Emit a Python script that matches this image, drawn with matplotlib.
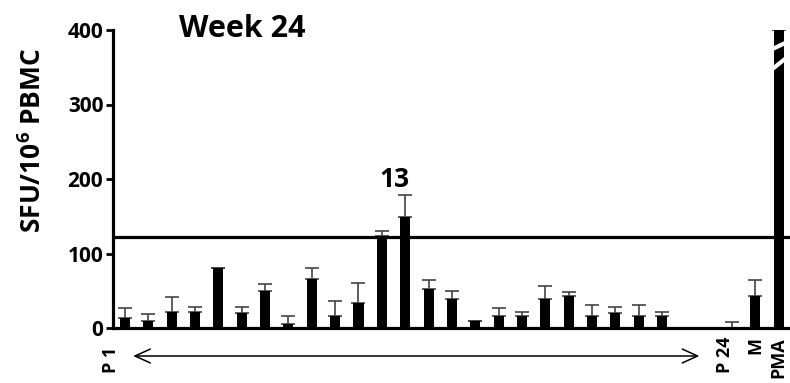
import numpy as np
import matplotlib
matplotlib.use('Agg')
from matplotlib import pyplot as plt

plt.rcParams['font.family'] = ['Open Sans', 'DejaVu Sans']
plt.rcParams['font.weight'] = 'bold'
plt.rcParams['mathtext.fontset'] = 'custom'
plt.rcParams['mathtext.bf'] = 'Open Sans:bold'

# peptide pools P1..P24, then empty slots, P24 control, medium, PMA
pos = np.arange(29)
sfu = [13, 9, 22, 22, 80, 20, 49, 5, 66, 16, 33, 124, 149,
       53, 39, 9, 16, 16, 39, 43, 16, 20, 16, 16,
       0, 0, 0, 43, 400]
err = [14, 10, 20, 6, 0, 8, 10, 11, 15, 20, 28, 6, 30,
       11, 10, 0, 11, 5, 17, 5, 15, 8, 15, 5,
       0, 0, 8, 21, 0]
cutoff = 122
tick_pos = [0, 26, 27, 28]
tick_lab = ['P 1', 'P 24', 'M', 'PMA']

fig = plt.figure(figsize=(7.9, 3.83), dpi=100)
ax = fig.add_axes([113 / 790, 1 - 328 / 383, 1 - 113 / 790, (328 - 30) / 383])

ax.bar(pos, sfu, width=0.43, color='black', zorder=2)
ax.errorbar(pos, sfu, yerr=[np.zeros(len(err)), err], fmt='none',
            ecolor='#444444', elinewidth=1.2, capsize=5, capthick=1.2, zorder=1)
ax.axhline(cutoff, color='black', lw=2.3, zorder=3)

# break marks on the PMA bar
ax.plot([27.7, 28.3], [374, 383], color='white', lw=3, zorder=4, solid_capstyle='butt')
ax.plot([27.7, 28.3], [347, 362], color='white', lw=3, zorder=4, solid_capstyle='butt')

ax.set_xlim(-0.514, 28.48)
ax.set_ylim(0, 400)
ax.set_yticks([0, 100, 200, 300, 400])
ax.tick_params(axis='y', width=2, length=5, labelsize=15, pad=2)
ax.set_xticks([])
for side in ['top', 'right']:
    ax.spines[side].set_visible(False)
ax.spines['left'].set_linewidth(2.3)
ax.spines['bottom'].set_linewidth(2.3)
for t in ax.get_yticklabels():
    t.set_fontweight('bold')

fig.text(33 / 790, 1 - 140 / 383, 'SFU/10$^\\mathbf{6}$ PBMC', fontsize=19,
         fontweight='bold', rotation=90, ha='center', va='center')
ax.text(5.0, 390.5, 'Week 24', fontsize=22, fontweight='bold', ha='center', va='baseline')
ax.text(11.56, 189, '13', fontsize=19, fontweight='bold', ha='center', va='baseline')

for p, lab in zip(tick_pos, tick_lab):
    if lab == 'P 1':
        x, y = p - 0.62, -0.062
    elif lab == 'P 24':
        x, y = p - 0.3, -0.03
    else:
        x, y = p, -0.03
    ax.text(x, y, lab, transform=ax.get_xaxis_transform(), rotation=90,
            ha='center', va='top', fontsize=13, fontweight='bold')

ax.annotate('', xy=(24.6, -0.094), xytext=(0.35, -0.094),
            xycoords=ax.get_xaxis_transform(), textcoords=ax.get_xaxis_transform(),
            arrowprops=dict(arrowstyle='<->,head_length=1.1,head_width=0.5', lw=1.1,
                            color='black', shrinkA=0, shrinkB=0))

fig.savefig('out.png', dpi=100)
